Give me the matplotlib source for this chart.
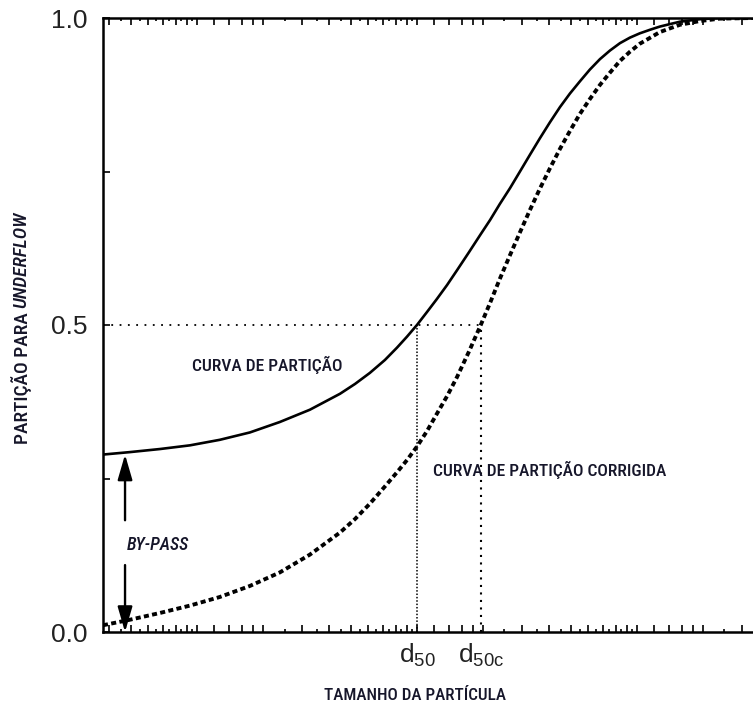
import matplotlib
matplotlib.use("Agg")
import matplotlib.pyplot as plt
from matplotlib import font_manager
from matplotlib.font_manager import FontProperties
from matplotlib.ticker import FixedLocator, NullFormatter, FixedFormatter
from matplotlib.transforms import blended_transform_factory

# ---- data (particle size relative to d50) ----
particle_size = [0.0374, 0.0496, 0.0679, 0.0929, 0.127, 0.174, 0.238, 0.326,
                 0.447, 0.523, 0.611, 0.715, 0.811, 0.901, 1.0, 1.11, 1.23,
                 1.37, 1.52, 1.72, 1.95, 2.15, 2.38, 2.65, 2.94,
                 3.26, 3.62, 4.02, 4.47, 4.96, 5.51, 6.11, 6.79, 7.54, 8.37,
                 9.29, 10.3, 11.5, 12.7, 14.1, 15.7, 19.3, 23.8, 33.7]
partition = [0.289, 0.293, 0.298, 0.304, 0.313, 0.325, 0.342, 0.362,
             0.388, 0.404, 0.422, 0.443, 0.463, 0.481, 0.500, 0.521, 0.542,
             0.565, 0.589, 0.618, 0.648, 0.671, 0.697, 0.723, 0.750,
             0.777, 0.804, 0.830, 0.855, 0.877, 0.897, 0.916, 0.933, 0.947, 0.959,
             0.968, 0.975, 0.981, 0.986, 0.990, 0.994, 0.998, 1.0, 1.0]
corrected = [0.011, 0.020, 0.031, 0.043, 0.057, 0.075, 0.097, 0.126,
             0.162, 0.184, 0.209, 0.237, 0.260, 0.280, 0.302, 0.327, 0.355,
             0.384, 0.415, 0.456, 0.500, 0.536, 0.575, 0.614, 0.651,
             0.687, 0.722, 0.755, 0.787, 0.816, 0.844, 0.868, 0.891, 0.911, 0.930,
             0.945, 0.958, 0.968, 0.977, 0.983, 0.989, 0.995, 0.999, 1.0]
d50 = 1.0
d50c = 1.95
bypass = partition[0]
y_ticks = [0.0, 0.5, 1.0]
y_tick_labels = ["0.0", "0.5", "1.0"]


# ---- fonts ----
def condensed_family():
    """Return (family, stretch) of an installed narrow sans face, if any."""
    prefs = ["Liberation Sans Narrow", "Roboto Condensed", "Open Sans Condensed",
             "Noto Sans Condensed", "DejaVu Sans Condensed", "Arial Narrow"]
    found = []
    for f in font_manager.fontManager.ttflist:
        st = str(f.stretch)
        if ("Narrow" in f.name or "Condensed" in f.name
                or st in ("condensed", "semi-condensed", "extra-condensed")
                or st.isdigit() and int(st) < 500):
            found.append((f.name, st))
    for p in prefs:
        for name, st in found:
            if name == p:
                return name, st
    for name, st in found:
        if "Sans" in name or "Roboto" in name:
            return name, st
    return None


available = {f.name for f in font_manager.fontManager.ttflist}
regular = "Liberation Sans" if "Liberation Sans" in available else "DejaVu Sans"
cond = condensed_family()
if cond is not None:
    label_family, label_stretch, scale = cond[0], cond[1], 1.0
else:
    label_family, label_stretch, scale = regular, "normal", 0.85


def label_font(size, italic=False):
    return FontProperties(family=[label_family, "DejaVu Sans"], stretch=label_stretch,
                          style="italic" if italic else "normal",
                          weight="medium", size=size * scale)


plt.rcParams["font.family"] = [regular, "DejaVu Sans"]
plt.rcParams["mathtext.fontset"] = "custom"
plt.rcParams["mathtext.rm"] = regular
plt.rcParams["mathtext.it"] = regular + ":italic"
text_color = "#16162a"

fig = plt.figure(figsize=(7.53, 7.09), dpi=100)
ax = fig.add_axes([103 / 753, 77 / 709, 1 - 103 / 753, 614 / 709])
ax.set_xscale("log")
ax.set_xlim(particle_size[0], particle_size[-1])
ax.set_ylim(0, 1)

# curves
ax.plot(particle_size, partition, color="black", lw=1.9, solid_joinstyle="round",
        zorder=3)
ax.plot(particle_size, corrected, color="black", lw=2.8,
        linestyle=(0, (1.3, 0.85)), zorder=3)

# reference lines for the cut sizes
ax.plot([particle_size[0], d50c], [0.5, 0.5], color="black", lw=1.3,
        linestyle=(0, (1, 3.6)), zorder=2)
ax.plot([d50, d50], [0, 0.5], color="black", lw=1.1,
        linestyle=(0, (1, 1.2)), zorder=2)
ax.plot([d50c, d50c], [0, 0.5], color="black", lw=1.5,
        linestyle=(0, (1, 2.6)), zorder=2)

# by-pass arrows
x_arrow = 0.0471
arrow_kw = dict(arrowstyle="-|>,head_width=0.32,head_length=1.1", color="black",
                lw=1.7, shrinkA=0, shrinkB=0, mutation_scale=14)
ax.annotate("", xy=(x_arrow, bypass), xytext=(x_arrow, 0.182), arrowprops=arrow_kw)
ax.annotate("", xy=(x_arrow, 0.0), xytext=(x_arrow, 0.109), arrowprops=arrow_kw)

ax.text(0.048, 0.142, "BY-PASS", fontproperties=label_font(12.8, True),
        color=text_color, ha="left", va="center")
ax.text(0.095, 0.435, "CURVA DE PARTIÇÃO", fontproperties=label_font(12.6),
        color=text_color, ha="left", va="center")
ax.text(1.18, 0.264, "CURVA DE PARTIÇÃO CORRIGIDA", fontproperties=label_font(12.6),
        color=text_color, ha="left", va="center")

# axes styling
for side in ("left", "bottom", "top"):
    ax.spines[side].set_linewidth(1.8)
ax.spines["right"].set_visible(False)

long_ticks, short_ticks = [], []
for base in (0.01, 0.1, 1.0, 10.0):
    for m in (1, 1.2, 1.4, 1.6, 1.8, 2, 3, 4, 5, 6, 7, 8, 9):
        long_ticks.append(base * m)
    for m in (2.5, 3.5, 4.5, 5.5, 6.5, 7.5, 8.5, 9.5):
        short_ticks.append(base * m)
ax.xaxis.set_major_locator(FixedLocator(long_ticks))
ax.xaxis.set_minor_locator(FixedLocator(short_ticks))
ax.xaxis.set_major_formatter(NullFormatter())
ax.xaxis.set_minor_formatter(NullFormatter())
ax.tick_params(axis="x", which="major", direction="in", length=5, width=1.2,
               top=True, bottom=True)
ax.tick_params(axis="x", which="minor", direction="in", length=2.5, width=1.2,
               top=True, bottom=True)

ax.yaxis.set_major_locator(FixedLocator(y_ticks))
ax.yaxis.set_major_formatter(FixedFormatter(y_tick_labels))
ax.yaxis.set_minor_locator(FixedLocator([0.25, 0.75]))
ax.tick_params(axis="y", which="both", direction="in", length=5, width=1.2,
               right=False, labelsize=19, pad=11, labelcolor="#222222")

# cut-size labels under the axis
trans = blended_transform_factory(ax.transData, ax.transAxes)
ax.text(d50, -0.016, r"$\mathrm{d_{50}}$", transform=trans, ha="center", va="top",
        fontsize=19, color="#222222")
ax.text(d50c, -0.016, r"$\mathrm{d_{50c}}$", transform=trans, ha="center", va="top",
        fontsize=19, color="#222222")

fig.text(415 / 753, 1 - 696 / 709, "TAMANHO DA PARTÍCULA",
         fontproperties=label_font(12.3), color=text_color, ha="center", va="center")

# y-axis title with italic "underflow"
t1 = fig.text(21.5 / 753, 1 - 444 / 709, "PARTIÇÃO PARA ", fontproperties=label_font(14),
              color=text_color, rotation=90, rotation_mode="anchor",
              ha="left", va="center")
fig.canvas.draw()
bb = t1.get_window_extent()
fig.text(21.5 / 753, bb.y1 / fig.bbox.height, "UNDERFLOW",
         fontproperties=label_font(14, True), color=text_color, rotation=90,
         rotation_mode="anchor", ha="left", va="center")

fig.savefig("out.png", dpi=100)
